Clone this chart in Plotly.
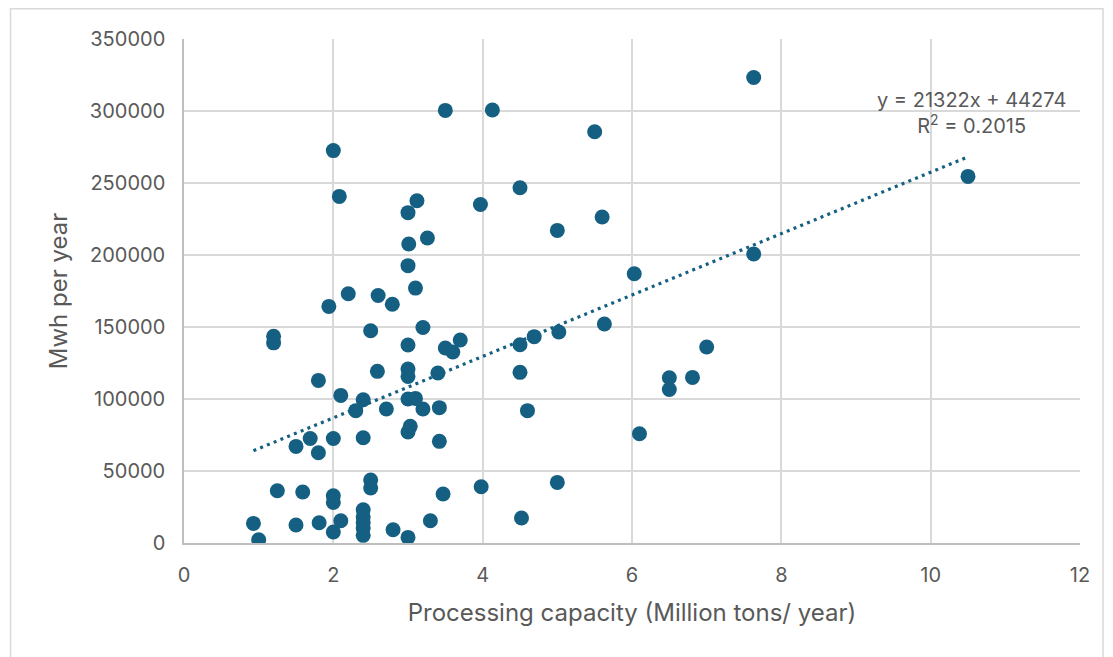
import plotly.graph_objects as go

# Data
capacity_mt = [
    0.93, 1.0, 1.2, 1.2, 1.25, 1.5, 1.5, 1.59, 1.69, 1.8, 1.8, 1.81, 1.94,
    2.0, 2.0, 2.0, 2.0, 2.0, 2.08, 2.1, 2.1, 2.2, 2.3, 2.4, 2.4, 2.4, 2.4,
    2.4, 2.4, 2.4, 2.5, 2.5, 2.5, 2.59, 2.6, 2.71, 2.79, 2.8,
    3.0, 3.01, 3.0, 3.0, 3.0, 3.0, 3.0, 3.03, 3.0, 3.0,
    3.12, 3.1, 3.1, 3.2, 3.2, 3.26, 3.3, 3.4, 3.42, 3.42, 3.47,
    3.5, 3.5, 3.6, 3.7, 3.97, 3.98, 4.13, 4.5, 4.5, 4.5, 4.52, 4.6, 4.69,
    5.0, 5.02, 5.0, 5.5, 5.6, 5.63, 6.03, 6.1, 6.5, 6.5, 6.81, 7.0,
    7.63, 7.63, 10.5,
]
mwh_per_year = [
    13600, 2300, 143500, 139000, 36300, 67100, 12500, 35400, 72600, 112900, 62700, 14100, 164300,
    272500, 72600, 32800, 28200, 7600, 240700, 102500, 15500, 173100, 91900, 99500, 73100, 23100,
    18100, 14300, 10400, 5300, 147400, 43700, 38200, 119200, 171900, 93100, 165800, 9200,
    229400, 207600, 192600, 137500, 120800, 115700, 100000, 81000, 77100, 3900,
    237700, 177000, 100400, 149700, 93100, 211800, 15500, 118100, 94000, 70600, 34000,
    300400, 135400, 132600, 141000, 235100, 39100, 300700, 246700, 137700, 118500, 17400, 91900, 143300,
    217100, 146500, 42100, 285600, 226400, 152100, 187000, 75900, 114800, 106600, 115000, 136100,
    323300, 200700, 254600,
]

# Linear trendline as stated on the chart
trend_slope = 21322
trend_intercept = 44274
trend_r2 = 0.2015

x_ticks = [0, 2, 4, 6, 8, 10, 12]
y_ticks = [0, 50000, 100000, 150000, 200000, 250000, 300000, 350000]

COLOR = "#156082"
TEXT = "#595959"
GRID = "#d9d9d9"
FONT = "Inter"

x_min, x_max = min(capacity_mt), max(capacity_mt)
trend_x = [x_min, x_max]
trend_y = [trend_slope * v + trend_intercept for v in trend_x]

fig = go.Figure()
fig.add_trace(go.Scatter(
    x=capacity_mt, y=mwh_per_year, mode="markers",
    marker=dict(color=COLOR, size=15, line=dict(width=0)),
    showlegend=False,
))
fig.add_trace(go.Scatter(
    x=trend_x, y=trend_y, mode="lines",
    line=dict(color=COLOR, width=3.2, dash="3px,4.3px"),
    showlegend=False, hoverinfo="skip",
))

fig.add_annotation(
    x=10.55, y=298400, xref="x", yref="y",
    text=f"y = {trend_slope}x + {trend_intercept}<br>R<sup>2</sup> = {trend_r2}",
    showarrow=False, align="center", xanchor="center", yanchor="middle",
    font=dict(family=FONT, size=20, color=TEXT),
)

fig.update_layout(
    width=1113, height=657,
    margin=dict(l=176, r=41, t=31, b=122),
    paper_bgcolor="white", plot_bgcolor="white",
    font=dict(family=FONT, color=TEXT),
    xaxis=dict(
        range=[0, 12], tickvals=x_ticks, ticktext=[str(v) for v in x_ticks],
        showgrid=True, gridcolor=GRID, gridwidth=1.5,
        showline=True, linecolor="#bfbfbf", linewidth=1.5, mirror=False,
        zeroline=False, ticks="", ticklabelstandoff=13,
        tickfont=dict(family=FONT, size=20, color=TEXT),
        title=dict(text="Processing capacity (Million tons/ year)", standoff=18,
                   font=dict(family=FONT, size=24, color=TEXT)),
    ),
    yaxis=dict(
        range=[0, 350000], tickvals=y_ticks, ticktext=[str(v) for v in y_ticks],
        showgrid=True, gridcolor=GRID, gridwidth=1.5,
        showline=True, linecolor="#bfbfbf", linewidth=1.5,
        zeroline=False, ticks="", ticklabelstandoff=13,
        tickfont=dict(family=FONT, size=20, color=TEXT),
        title=dict(text="Mwh per year", standoff=15,
                   font=dict(family=FONT, size=24, color=TEXT)),
    ),
    shapes=[dict(
        type="rect", xref="paper", yref="paper",
        x0=-0.1936, x1=1.0257, y0=-0.25, y1=1.060,
        line=dict(color=GRID, width=1.5), fillcolor="rgba(0,0,0,0)", layer="below",
    )],
)

fig.write_html("out.html")
